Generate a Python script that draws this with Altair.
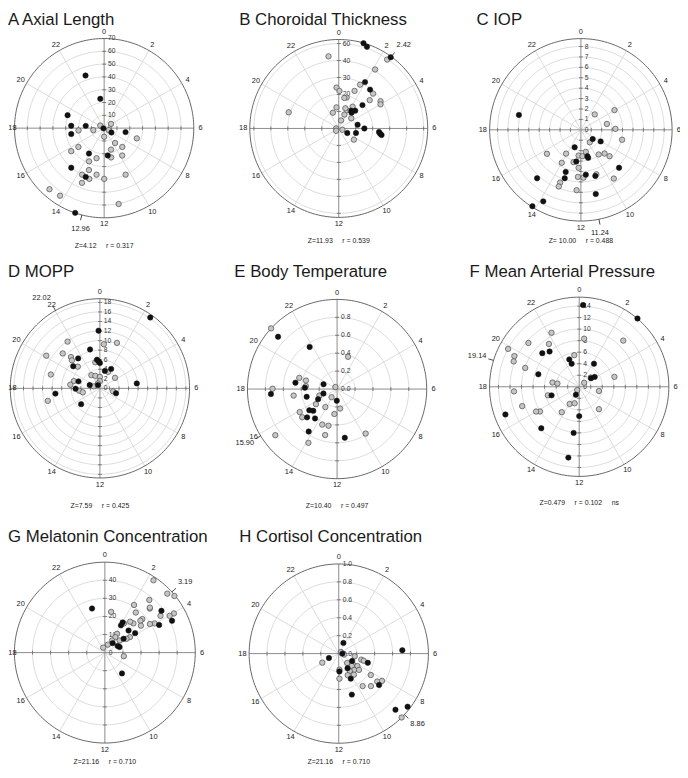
import altair as alt
import pandas as pd

FONT = "Liberation Sans"

# ---------------- data (acrophase hour, amplitude, group) ----------------
A_hours = [22.7, 23.5, 19.3, 18.27, 18.47, 17.32, 17.0, 8.04, 6.7, 20.27, 17.31, 17.66, 3.88, 7.55, 12.0, 7.16, 9.58, 9.07, 10.81, 15.59,
           15.67, 14.06, 11.5, 12.95, 11.11, 9.77, 13.63, 14.65, 13.33, 13.69, 13.38, 13.09, 12.62, 12.0, 13.47, 10.35, 14.79, 14.21, 11.28, 13.26]
A_values = [43.6, 23.1, 30.3, 25.8, 14.5, 26.1, 0.6, 6.6, 17.0, 3.7, 8.6, 20.1, 6.3, 3.9, 6.7, 26.7, 14.4, 20.4, 17.6, 24.9,
            31.4, 23.1, 21.5, 24.2, 23.5, 25.6, 28.5, 40.2, 34.8, 40.2, 40.7, 41.3, 36.8, 39.6, 46.1, 40.0, 64.0, 63.0, 60.3, 69.9]
A_groups = list("dddddddddlllllllllllldd" "lllldlldlllllllld" "d")

B_hours = [1.08, 1.27, 2.41, 2.34, 23.46, 2.11, 1.97, 1.73, 1.52, 2.59, 2.97, 3.17, 3.79, 4.0, 3.03, 23.79, 0.07, 0.96, 0.69, 2.17,
           2.85, 2.34, 2.61, 1.21, 3.39, 1.47, 23.58, 22.63, 1.08, 19.19, 18.0, 15.27, 7.33, 7.89, 5.27, 6.0, 7.0, 8.43, 6.34, 6.48, 6.58]
B_values = [52.3, 50.9, 51.9, 49.6, 42.9, 40.8, 31.4, 28.7, 24.0, 29.4, 28.8, 24.7, 29.4, 28.4, 19.6, 24.1, 22.1, 18.8, 18.3, 15.2,
            14.3, 12.8, 12.0, 12.5, 9.5, 8.8, 12.5, 9.9, 4.9, 31.0, 1.6, 2.1, 2.3, 5.7, 11.3, 15.1, 10.5, 11.1, 23.8, 24.6, 25.5]
B_groups = list("dddllldlldlllldlllllddd" "lllllllllldddd" "lddd")

C_hours = [18.9, 2.79, 3.97, 5.15, 5.89, 6.9, 9.64, 8.53, 8.02, 13.31, 11.16, 12.34, 11.76, 11.07, 11.03, 9.61, 9.0, 8.84, 14.13, 15.65,
           12.55, 12.85, 14.01, 12.23, 13.32, 11.58, 10.72, 10.84, 8.99, 9.73, 12.24, 11.79, 13.23, 13.43, 13.42, 12.27, 11.13, 14.81, 13.85, 14.16]
C_values = [6.12, 1.99, 3.74, 2.56, 3.32, 4.07, 1.47, 1.44, 2.2, 1.78, 2.17, 2.48, 2.54, 2.61, 2.78, 2.92, 3.22, 3.74, 2.69, 3.99,
            3.07, 3.18, 3.66, 3.65, 4.3, 4.33, 4.52, 4.64, 5.17, 5.65, 4.53, 4.6, 4.9, 5.44, 5.84, 5.81, 6.33, 6.27, 7.76, 8.69]
C_groups = list("dllllllddd" "llldd" "llllldllldd" "ldd" "llldllldddd")

D_hours = [2.36, 23.91, 1.37, 0.34, 23.05, 21.69, 20.09, 20.88, 21.15, 21.0, 21.6, 20.97, 20.64, 23.61, 23.81, 0.0, 23.33, 2.0, 1.05, 1.77,
           3.68, 5.49, 21.8, 22.65, 0.0, 0.0, 22.55, 19.21, 19.04, 18.47, 17.95, 19.19, 19.2, 21.93, 17.58, 17.13, 15.33, 17.55, 17.1, 19.05, 7.13, 6.85]
D_values = [18.2, 12.07, 10.17, 9.28, 8.4, 11.9, 13.15, 10.68, 8.93, 8.29, 7.75, 6.49, 7.25, 6.03, 5.66, 5.31, 5.53, 4.7, 3.8, 3.86,
            3.86, 7.79, 3.29, 2.79, 2.41, 1.52, 1.11, 4.72, 5.66, 6.25, 5.1, 2.25, 1.34, 0.8, 4.37, 3.68, 5.14, 9.38, 11.21, 10.68, 3.53, 2.83]
D_groups = list("ddlldllllldldddd" "lddll" "dllllld" "llddldll" "ddlldl")

E_hours = [20.84, 20.77, 21.79, 1.25, 19.1, 19.02, 18.58, 18.16, 18.36, 18.02, 17.71, 19.29, 21.3, 17.43, 17.05, 16.8, 16.65, 14.28, 12.1,
           16.13, 15.63, 14.2, 11.41, 12.41, 15.89, 15.4, 15.11, 15.51, 15.17, 14.46, 13.51, 12.88, 14.25, 12.97, 11.4, 9.82, 13.87, 15.55]
E_values = [1.0, 0.88, 0.56, 0.38, 0.44, 0.36, 0.47, 0.36, 0.35, 0.72, 0.74, 0.16, 0.03, 0.49, 0.35, 0.16, 0.21, 0.11, 0.13,
            0.24, 0.29, 0.24, 0.22, 0.28, 0.49, 0.5, 0.46, 0.39, 0.36, 0.41, 0.43, 0.42, 0.57, 0.53, 0.55, 0.59, 0.68, 0.86]
E_groups = list("lddllldd" "llddll" "ddl" "lddl" "lllllddddll" "dldlllll")

F_hours = [0.18, 2.7, 2.91, 0.39, 22.19, 21.65, 21.33, 20.82, 20.72, 19.87, 19.69, 19.41, 19.28, 19.13, 23.41, 22.67, 22.79, 2.18, 3.42, 3.83,
           3.61, 4.95, 3.42, 18.61, 18.57, 17.73, 16.98, 16.85, 14.07, 13.51, 13.94, 13.04, 6.81, 9.24, 12.0, 14.3, 15.85, 16.01, 16.75, 16.63,
           14.83, 12.46, 12.58]
F_values = [14.19, 15.57, 11.07, 8.39, 10.53, 9.1, 7.99, 8.66, 11.63, 13.98, 12.45, 12.19, 9.92, 7.41, 5.55, 5.04, 4.21, 4.75, 2.56, 3.19,
            2.54, 6.35, 1.1, 4.69, 3.82, 11.34, 5.63, 5.02, 0.67, 1.49, 3.4, 2.97, 3.51, 5.18, 5.09, 5.34, 8.04, 8.63, 10.45, 13.67,
            9.75, 8.06, 12.43]
F_groups = list("ddlllldd" "llllldl" "dddldd" "lllllldld" "lllldlllld" "ddd")

G_hours = [2.26, 3.11, 3.39, 4.03, 4.31, 4.03, 3.57, 3.77, 4.2, 3.97, 3.84, 3.04, 3.0, 2.68, 2.1, 2.51, 3.21, 3.21, 3.55, 2.96,
           3.82, 2.62, 2.21, 2.03, 2.04, 0.58, 22.92, 3.14, 3.89, 3.83, 3.57, 2.2, 2.28, 3.37, 2.64, 4.62, 4.19, 2.05, 1.37, 22.77, 6.71, 9.37]
G_values = [48.2, 47.5, 49.6, 43.9, 41.1, 41.2, 38.9, 36.9, 33.7, 31.9, 29.5, 34.8, 35.2, 38.1, 30.9, 28.0, 27.8, 26.4, 24.9, 22.6,
            19.9, 22.1, 19.3, 19.4, 17.5, 22.8, 25.4, 17.9, 16.3, 14.2, 12.9, 12.4, 10.3, 10.6, 6.8, 8.7, 8.0, 7.8, 4.7, 2.9, 10.7, 14.9]
G_groups = list("lllldldldllllllllllld" "llddlddlldlllddd" "lllldd")

H_hours = [1.57, 3.6, 6.0, 6.67, 16.39, 16.08, 5.8, 7.92, 7.0, 7.07, 7.17, 9.21, 8.53, 8.25, 8.9, 9.93, 8.59, 9.12, 9.85, 11.84,
           11.86, 10.49, 9.61, 10.29, 11.9, 8.25, 8.4, 8.15, 8.53, 9.58, 9.02, 10.82, 8.98, 8.51, 9.03, 6.64]
H_values = [0.13, 0.03, 0.04, 0.06, 0.12, 0.21, 0.71, 0.17, 0.26, 0.29, 0.34, 0.14, 0.21, 0.25, 0.2, 0.19, 0.29, 0.25, 0.23, 0.18,
            0.2, 0.26, 0.29, 0.31, 0.28, 0.43, 0.53, 0.57, 0.57, 0.45, 0.51, 0.48, 0.89, 0.97, 1.0, 0.18]
H_groups = list("dldldlddlld" "llll" "dllll" "dlldlllldlldddll")

NB = "\u00a0" * 5
panels = [
    dict(key="A", title="A Axial Length", hours=A_hours, values=A_values, groups=A_groups, vmax=70,
         rings=[10, 20, 30, 40, 50, 60], tick_vals=[0, 10, 20, 30, 40, 50, 60, 70],
         tick_text=["0", "10", "20", "30", "40", "50", "60", "70"],
         mean_hour=12.96, mean_text="12.96", stats="Z=4.12" + NB + "r = 0.317"),
    dict(key="B", title="B Choroidal Thickness", hours=B_hours, values=B_values, groups=B_groups, vmax=52.4,
         rings=[10, 20, 30, 40, 50], tick_vals=[10, 20, 30, 40, 50],
         tick_text=["10", "20", "30", "40", "60"],
         mean_hour=2.42, mean_text="2.42", stats="Z=11.93" + NB + "r = 0.539"),
    dict(key="C", title="C IOP", hours=C_hours, values=C_values, groups=C_groups, vmax=8.76,
         rings=[1, 2, 3, 4, 5, 6, 7, 8], tick_vals=[0, 1, 2, 3, 4, 5, 6, 7, 8],
         tick_text=["0", "1", "2", "3", "4", "5", "6", "7", "8"],
         mean_hour=11.24, mean_text="11.24", stats="Z= 10.00" + NB + "r = 0.488"),
    dict(key="D", title="D MOPP", hours=D_hours, values=D_values, groups=D_groups, vmax=18.77,
         rings=[2, 4, 6, 8, 10, 12, 14, 16, 18], tick_vals=[0, 2, 4, 6, 8, 10, 12, 14, 16, 18],
         tick_text=["0", "2", "4", "6", "8", "10", "12", "14", "16", "18"],
         mean_hour=22.02, mean_text="22.02", stats="Z=7.59" + NB + "r = 0.425"),
    dict(key="E", title="E Body Temperature", hours=E_hours, values=E_values, groups=E_groups, vmax=1.0,
         rings=[0.2, 0.4, 0.6, 0.8], tick_vals=[0, 0.2, 0.4, 0.6, 0.8],
         tick_text=["0.0", "0.2", "0.4", "0.6", "0.8"],
         mean_hour=15.90, mean_text="15.90", stats="Z=10.40" + NB + "r = 0.497"),
    dict(key="F", title="F Mean Arterial Pressure", hours=F_hours, values=F_values, groups=F_groups, vmax=15.55,
         rings=[2, 4, 6, 8, 10, 12, 14], tick_vals=[0, 2, 4, 6, 8, 10, 12, 14],
         tick_text=["0", "2", "4", "6", "8", "10", "12", "14"],
         mean_hour=19.14, mean_text="19.14", stats="Z=0.479" + NB + "r = 0.102" + NB + "ns"),
    dict(key="G", title="G Melatonin Concentration", hours=G_hours, values=G_values, groups=G_groups, vmax=50,
         rings=[10, 20, 30, 40], tick_vals=[0, 10, 20, 30, 40],
         tick_text=["0", "10", "20", "30", "40"],
         mean_hour=3.19, mean_text="3.19", stats="Z=21.16" + NB + "r = 0.710"),
    dict(key="H", title="H Cortisol Concentration", hours=H_hours, values=H_values, groups=H_groups, vmax=1.0,
         rings=[0.2, 0.4, 0.6, 0.8], tick_vals=[0, 0.2, 0.4, 0.6, 0.8, 1.0],
         tick_text=["0.0", "0.2", "0.4", "0.6", "0.8", "1.0"],
         mean_hour=8.86, mean_text="8.86", stats="Z=21.16" + NB + "r = 0.710"),
]

# ---------------- layout (page pixels) ----------------
layout = {
    "A": dict(cx=105.3, cy=125.0, R=90.7, tx=8, ty=21, sdy=119),
    "B": dict(cx=342.7, cy=125.3, R=90.0, tx=242, ty=21, sdy=114),
    "C": dict(cx=587.7, cy=126.7, R=92.3, tx=482, ty=21, sdy=113),
    "D": dict(cx=101.0, cy=388.3, R=90.7, tx=8, ty=276, sdy=119),
    "E": dict(cx=341.0, cy=389.0, R=90.7, tx=237, ty=276, sdy=118),
    "F": dict(cx=586.0, cy=386.7, R=90.7, tx=475, ty=276, sdy=118),
    "G": dict(cx=106.0, cy=655.7, R=91.5, tx=8, ty=544, sdy=111),
    "H": dict(cx=342.7, cy=656.7, R=90.7, tx=242, ty=544, sdy=110),
}

pts, rings, spokes, ticks, hlab, rlab, mline, mlab, stats, titles = ([] for _ in range(10))
for p in panels:
    key = p["key"]
    L = layout[key]
    vmax = p["vmax"]
    base = dict(panel=key, cx=L["cx"], cy=L["cy"], k=L["R"] / vmax)
    for h, v, g in zip(p["hours"], p["values"], p["groups"]):
        pts.append({**base, "hour": h, "val": v, "grp": g})
    for ri, r in enumerate(p["rings"] + [vmax]):
        kind = "outer" if r == vmax else "inner"
        for j in range(193):
            rings.append({**base, "gid": f"{key}{ri}", "kind": kind, "hour": j * 0.125, "val": r, "ord": j})
    for h in range(0, 24, 2):
        kind = "main" if h % 6 == 0 else "minor"
        for j, v in enumerate([0, vmax]):
            spokes.append({**base, "gid": f"{key}{h}", "kind": kind, "hour": h, "val": v, "ord": j})
        hlab.append({**base, "hour": h, "val": 1.075 * vmax, "text": str(h)})
    for h in (0, 6, 12, 18):
        for v in p["rings"]:
            ticks.append({**base, "hour": h, "val": v, "orient": "vert" if h in (0, 12) else "horz"})
    for v, t in zip(p["tick_vals"], p["tick_text"]):
        rlab.append({**base, "hour": 0, "val": v, "text": t})
    for j, v in enumerate([vmax, 1.06 * vmax]):
        mline.append({**base, "gid": key, "hour": p["mean_hour"], "val": v, "ord": j})
    mlab.append({**base, "hour": p["mean_hour"], "val": 1.06 * vmax, "text": p["mean_text"]})
    stats.append({"panel": key, "px": L["cx"], "py": L["cy"] + L["sdy"], "text": p["stats"]})
    titles.append({"panel": key, "px": L["tx"], "py": L["ty"], "text": p["title"]})

xs = alt.Scale(domain=[8, 688], nice=False, zero=False)
ys = alt.Scale(domain=[8, 778], nice=False, zero=False, reverse=True)
PX = "datum.cx + datum.val * datum.k * sin(datum.hour * PI / 12)"
PY = "datum.cy - datum.val * datum.k * cos(datum.hour * PI / 12)"
PY_LAB = PY + " - 9 * cos(datum.hour * PI / 12)"
SIN = "sin(datum.hour * PI / 12)"


def polar(rows, px=PX, py=PY):
    return alt.Chart(pd.DataFrame(rows)).transform_calculate(px=px, py=py)


def xy():
    return dict(x=alt.X("px:Q", scale=xs, axis=None), y=alt.Y("py:Q", scale=ys, axis=None))


ring_df = pd.DataFrame(rings)
inner_rings = alt.Chart(ring_df).transform_filter("datum.kind == 'inner'").transform_calculate(px=PX, py=PY).mark_line(
    color="#d2d2d2", strokeWidth=0.8).encode(**xy(), detail="gid:N", order="ord:Q")
outer_ring = alt.Chart(ring_df).transform_filter("datum.kind == 'outer'").transform_calculate(px=PX, py=PY).mark_line(
    color="#555555", strokeWidth=0.9).encode(**xy(), detail="gid:N", order="ord:Q")

spoke_df = pd.DataFrame(spokes)
minor_spokes = alt.Chart(spoke_df).transform_filter("datum.kind == 'minor'").transform_calculate(px=PX, py=PY).mark_line(
    color="#d2d2d2", strokeWidth=0.8).encode(**xy(), detail="gid:N", order="ord:Q")
main_spokes = alt.Chart(spoke_df).transform_filter("datum.kind == 'main'").transform_calculate(px=PX, py=PY).mark_line(
    color="#8a8a8a", strokeWidth=1).encode(**xy(), detail="gid:N", order="ord:Q")

tick_df = pd.DataFrame(ticks)
vticks = alt.Chart(tick_df).transform_filter("datum.orient == 'vert'").transform_calculate(px=PX, py=PY).mark_point(
    shape="M-1,0L1,0", size=16, filled=False, color="#666666", strokeWidth=0.8, opacity=1).encode(**xy())
hticks = alt.Chart(tick_df).transform_filter("datum.orient == 'horz'").transform_calculate(px=PX, py=PY).mark_point(
    shape="M0,-1L0,1", size=16, filled=False, color="#666666", strokeWidth=0.8, opacity=1).encode(**xy())

hour_labels = polar(hlab, px="max(" + PX + ", 12.5)").mark_text(
    font=FONT, fontSize=7.5, color="#222222", align="center", baseline="middle").encode(**xy(), text="text:N")
rad_labels = polar(rlab).mark_text(
    font=FONT, fontSize=6.8, color="#333333", align="left", baseline="middle", dx=4).encode(**xy(), text="text:N")

pt_df = pd.DataFrame(pts)
light_pts = alt.Chart(pt_df).transform_filter("datum.grp == 'l'").transform_calculate(px=PX, py=PY).mark_point(
    shape="circle", filled=True, size=30, fill="#c6c6c6", stroke="#4a4a4a", strokeWidth=0.7, opacity=1).encode(**xy())
dark_pts = alt.Chart(pt_df).transform_filter("datum.grp == 'd'").transform_calculate(px=PX, py=PY).mark_point(
    shape="circle", filled=True, size=30, fill="#111111", stroke="#111111", strokeWidth=0.5, opacity=1).encode(**xy())

mean_line = polar(mline).mark_line(color="#333333", strokeWidth=0.9).encode(**xy(), detail="gid:N", order="ord:Q")

MEAN_STYLE = dict(font=FONT, fontSize=7.5, color="#222222", baseline="middle")
mean_right = polar(mlab, py=PY_LAB).transform_filter(SIN + " > 0.3").mark_text(
    align="left", dx=2, **MEAN_STYLE).encode(**xy(), text="text:N")
mean_left = polar(mlab, py=PY_LAB).transform_filter(SIN + " < -0.3").mark_text(
    align="right", dx=-2, **MEAN_STYLE).encode(**xy(), text="text:N")
mean_mid = polar(mlab, py=PY_LAB).transform_filter("abs(" + SIN + ") <= 0.3").mark_text(
    align="center", **MEAN_STYLE).encode(**xy(), text="text:N")

stats_text = alt.Chart(pd.DataFrame(stats)).mark_text(
    font=FONT, fontSize=7, color="#222222", align="center", baseline="middle").encode(
    x=alt.X("px:Q", scale=xs, axis=None), y=alt.Y("py:Q", scale=ys, axis=None), text="text:N")
title_text = alt.Chart(pd.DataFrame(titles)).mark_text(
    font=FONT, fontSize=17, color="#1a1a1a", align="left", baseline="alphabetic").encode(
    x=alt.X("px:Q", scale=xs, axis=None), y=alt.Y("py:Q", scale=ys, axis=None), text="text:N")

chart = alt.layer(
    inner_rings, minor_spokes, main_spokes, outer_ring, vticks, hticks,
    hour_labels, rad_labels, light_pts, dark_pts, mean_line, mean_right, mean_left, mean_mid,
    stats_text, title_text,
).properties(
    width=680, height=770, autosize=alt.AutoSizeParams(type="none"), padding=0,
).configure_view(stroke=None)

chart.save("out.html", embed_options={"renderer": "svg", "actions": False})
